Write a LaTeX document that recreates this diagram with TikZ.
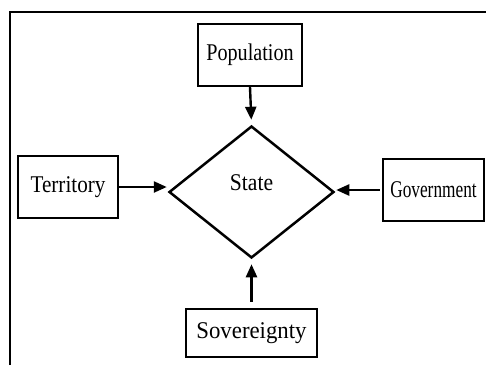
\documentclass[tikz,border=0pt]{standalone}
\usepackage{fontspec}
\setmainfont{Liberation Serif}
\usetikzlibrary{shapes.geometric,arrows.meta}
\newcommand{\hs}[2]{\scalebox{#1}[1]{#2}}
\begin{document}
\begin{tikzpicture}[x=1pt,y=-1pt,
  box/.style={draw,line width=2.2pt,inner sep=0pt,font=\fontsize{24}{28}\selectfont},
  arr/.style={line width=2.4pt,-{Triangle[length=13pt,width=11pt]}},
  lbl/.style={font=\fontsize{24}{28}\selectfont,inner sep=0pt}]
\useasboundingbox (0,0) rectangle (486,365);
\fill[white] (0,0) rectangle (486,365);
\coordinate (fa) at (10,365);
\coordinate (fb) at (10,12);
\coordinate (fc) at (486,12);
\draw[line width=2.5pt] (fa) -- (fb) -- (fc);
\node[box,minimum width=104pt,minimum height=62pt] (pop) at (250,55) {\hs{0.84}{Population}};
\node[box,minimum width=100pt,minimum height=62pt] (ter) at (68,187) {\hs{0.88}{Territory}};
\node[box,minimum width=101pt,minimum height=62pt] (gov) at (433.5,190) {\hs{0.72}{Government}};
\node[box,minimum width=131pt,minimum height=48pt] (sov) at (251.5,333) {\hs{0.95}{Sovereignty}};
\node[draw,diamond,line width=2.5pt,inner sep=0pt,minimum width=165pt,minimum height=132pt] (state) at (251.5,192) {};
\node[lbl] (statetxt) at (251.5,183) {\hs{0.9}{State}};
\draw[arr,shorten >=5pt] (pop.south) -- (state.north);
\draw[arr,shorten >=1pt] (ter.east) -- (ter.east -| state.west);
\draw[arr,shorten <=2pt,shorten >=1pt] (gov.west) -- (gov.west -| state.east);
\draw[arr,shorten <=6pt,shorten >=5pt] (sov.north) -- (state.south);
\end{tikzpicture}
\end{document}
